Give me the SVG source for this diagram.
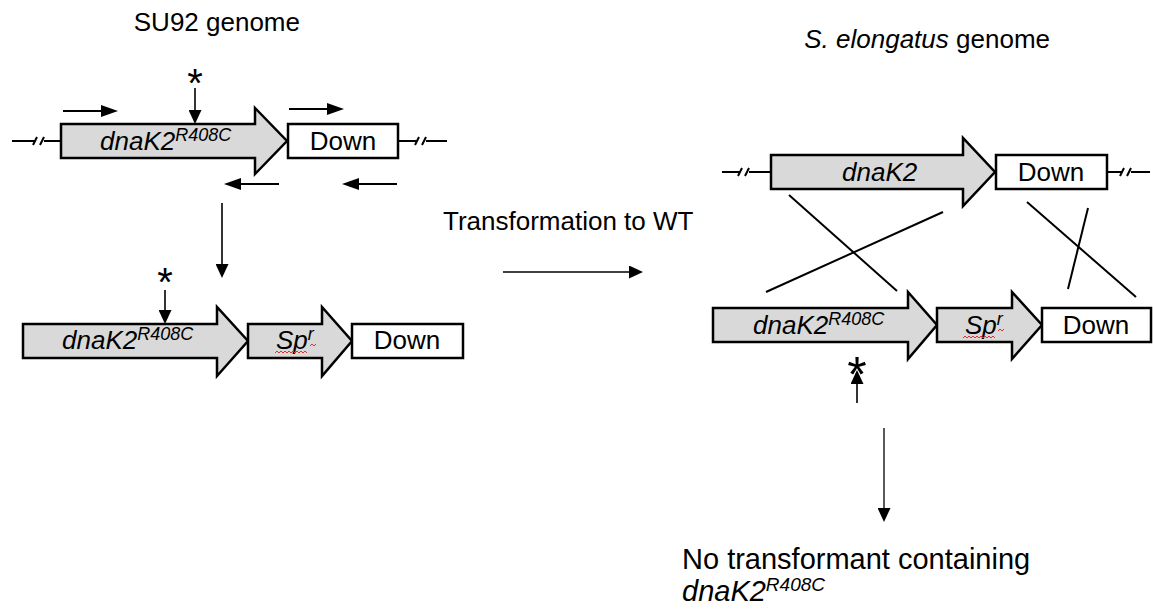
<svg xmlns="http://www.w3.org/2000/svg" width="1153" height="612" viewBox="0 0 1153 612">
  <style>
    text { font-family: "Liberation Sans", Arial, sans-serif; fill: #000; }
    .title { font-size: 26px; }
    .label { font-size: 26px; }
    .gene { font-size: 26px; font-style: italic; }
    .sup { font-size: 18px; font-style: italic; }
    .star { font-size: 40px; }
    .big { font-size: 29px; }
    .bigsup { font-size: 19px; font-style: italic; }
    .cassette { fill: #d9d9d9; stroke: #000; stroke-width: 2.5; stroke-linejoin: miter; }
    .box { fill: #fff; stroke: #000; stroke-width: 2.5; }
    .dna { stroke: #000; stroke-width: 2; fill: none; }
    .primer { stroke: #000; stroke-width: 2; fill: none; marker-end: url(#ap); }
    .pointer { stroke: #000; stroke-width: 1.6; fill: none; marker-end: url(#ah); }
    .flow { stroke: #000; stroke-width: 1.3; fill: none; marker-end: url(#ah); }
    .cross { stroke: #000; stroke-width: 2; fill: none; }
    .squiggle { stroke: #e03030; stroke-width: 1; fill: none; }
  </style>
  <defs>
    <marker id="ap" markerUnits="userSpaceOnUse" markerWidth="17" markerHeight="12" refX="12" refY="6" orient="auto">
      <path d="M0,0 L17,6 L0,12 z" fill="#000"/>
    </marker>
    <marker id="ah" markerUnits="userSpaceOnUse" markerWidth="14" markerHeight="13" refX="10" refY="6.5" orient="auto">
      <path d="M0,0 L14,6.5 L0,13 z" fill="#000"/>
    </marker>
  </defs>

  <rect width="1153" height="612" fill="#fff"/>

  <!-- headings -->
  <text class="title" x="300" y="31" text-anchor="end">SU92 genome</text>
  <text class="title" x="1050" y="48" text-anchor="end"><tspan font-style="italic">S. elongatus</tspan> genome</text>
  <text class="label" x="443" y="230">Transformation to WT</text>

  <!-- connectors: chromosome lines, primers, pointers, crossovers, process arrows -->
  <g id="connectors">
    <!-- flanking chromosome with break marks, SU92 -->
    <path class="dna" d="M12,141 H35 M44,141 H61 M33,145 L37,137 M40,145 L44,137"/>
    <path class="dna" d="M398,141 H417 M426,141 H447 M415,145 L419,137 M422,145 L426,137"/>
    <!-- flanking chromosome with break marks, wild type -->
    <path class="dna" d="M722,172 H740 M749,172 H771 M738,176 L742,168 M745,176 L749,168"/>
    <path class="dna" d="M1107,172 H1122 M1131,172 H1150 M1120,176 L1124,168 M1127,176 L1131,168"/>

    <!-- primers -->
    <line class="primer" x1="63" y1="111" x2="113" y2="111"/>
    <line class="primer" x1="289" y1="109" x2="339" y2="109"/>
    <line class="primer" x1="279" y1="184" x2="229" y2="184"/>
    <line class="primer" x1="397" y1="184" x2="347" y2="184"/>

    <!-- mutation pointers -->
    <line class="pointer" x1="195" y1="88" x2="195" y2="120"/>
    <line class="pointer" x1="165" y1="290" x2="165" y2="320"/>
    <line class="pointer" x1="857" y1="403" x2="857" y2="374"/>

    <!-- construction step -->
    <line class="pointer" x1="222" y1="203" x2="222" y2="274"/>

    <!-- transformation -->
    <line class="flow" x1="503" y1="272" x2="639" y2="272"/>

    <!-- homologous recombination crossovers -->
    <line class="cross" x1="789" y1="195" x2="897" y2="291"/>
    <line class="cross" x1="766" y1="292" x2="943" y2="212"/>
    <line class="cross" x1="1027" y1="202" x2="1136" y2="297"/>
    <line class="cross" x1="1088" y1="208" x2="1068" y2="289"/>

    <!-- outcome -->
    <line class="flow" x1="884" y1="428" x2="884" y2="518"/>
  </g>

  <!-- SU92 genome locus -->
  <g id="su92-dnak2">
    <polygon class="cassette" points="61,124 255,124 255,108 287,141 255,174 255,158 61,158"/>
    <text class="gene" x="100" y="150">dnaK2<tspan class="sup" dy="-9">R408C</tspan></text>
  </g>
  <g id="su92-down">
    <rect class="box" x="288" y="124" width="110" height="34"/>
    <text class="label" x="343" y="150" text-anchor="middle">Down</text>
  </g>
  <text class="star" x="195" y="97" text-anchor="middle">*</text>

  <!-- transforming construct -->
  <g id="construct-dnak2">
    <polygon class="cassette" points="23,324 217,324 217,307 248,341 217,376 217,358 23,358"/>
    <text class="gene" x="62" y="349">dnaK2<tspan class="sup" dy="-9">R408C</tspan></text>
  </g>
  <g id="construct-spr">
    <polygon class="cassette" points="248,324 322,324 322,307 352,341 322,376 322,358 248,358"/>
    <text class="gene" x="276" y="349">Sp<tspan class="sup" dy="-9">r</tspan></text>
    <path class="squiggle" d="M275,353 l2,-2 l2,2 l2,-2 l2,2 l2,-2 l2,2 l2,-2 l2,2 l2,-2 l2,2 l2,-2 l2,2 l2,-2 l2,2 l2,-2 l2,2"/>
    <path class="squiggle" d="M310,346 l2,-2 l2,2 l2,-2"/>
  </g>
  <g id="construct-down">
    <rect class="box" x="352" y="324" width="111" height="34"/>
    <text class="label" x="407" y="349" text-anchor="middle">Down</text>
  </g>
  <text class="star" x="165" y="296" text-anchor="middle">*</text>

  <!-- S. elongatus wild-type locus -->
  <g id="wt-dnak2">
    <polygon class="cassette" points="771,155 963,155 963,138 995,172 963,206 963,189 771,189"/>
    <text class="gene" x="842" y="181">dnaK2</text>
  </g>
  <g id="wt-down">
    <rect class="box" x="996" y="155" width="111" height="34"/>
    <text class="label" x="1051" y="181" text-anchor="middle">Down</text>
  </g>

  <!-- incoming construct aligned for recombination -->
  <g id="donor-dnak2">
    <polygon class="cassette" points="713,308 908,308 908,292 937,325 908,359 908,342 713,342"/>
    <text class="gene" x="753" y="334">dnaK2<tspan class="sup" dy="-9">R408C</tspan></text>
  </g>
  <g id="donor-spr">
    <polygon class="cassette" points="937,308 1012,308 1012,292 1042,325 1012,359 1012,342 937,342"/>
    <text class="gene" x="965" y="334">Sp<tspan class="sup" dy="-9">r</tspan></text>
    <path class="squiggle" d="M963,338 l2,-2 l2,2 l2,-2 l2,2 l2,-2 l2,2 l2,-2 l2,2 l2,-2 l2,2 l2,-2 l2,2 l2,-2 l2,2 l2,-2 l2,2"/>
    <path class="squiggle" d="M998,331 l2,-2 l2,2 l2,-2"/>
  </g>
  <g id="donor-down">
    <rect class="box" x="1042" y="308" width="109" height="34"/>
    <text class="label" x="1096" y="334" text-anchor="middle">Down</text>
  </g>
  <text class="star" x="857" y="392" text-anchor="middle" style="font-size:50px">*</text>

  <!-- result -->
  <g id="result">
    <text class="big" x="682" y="569">No transformant containing</text>
    <text class="big" x="682" y="601"><tspan font-style="italic">dnaK2</tspan><tspan class="bigsup" dy="-10">R408C</tspan></text>
  </g>
</svg>
